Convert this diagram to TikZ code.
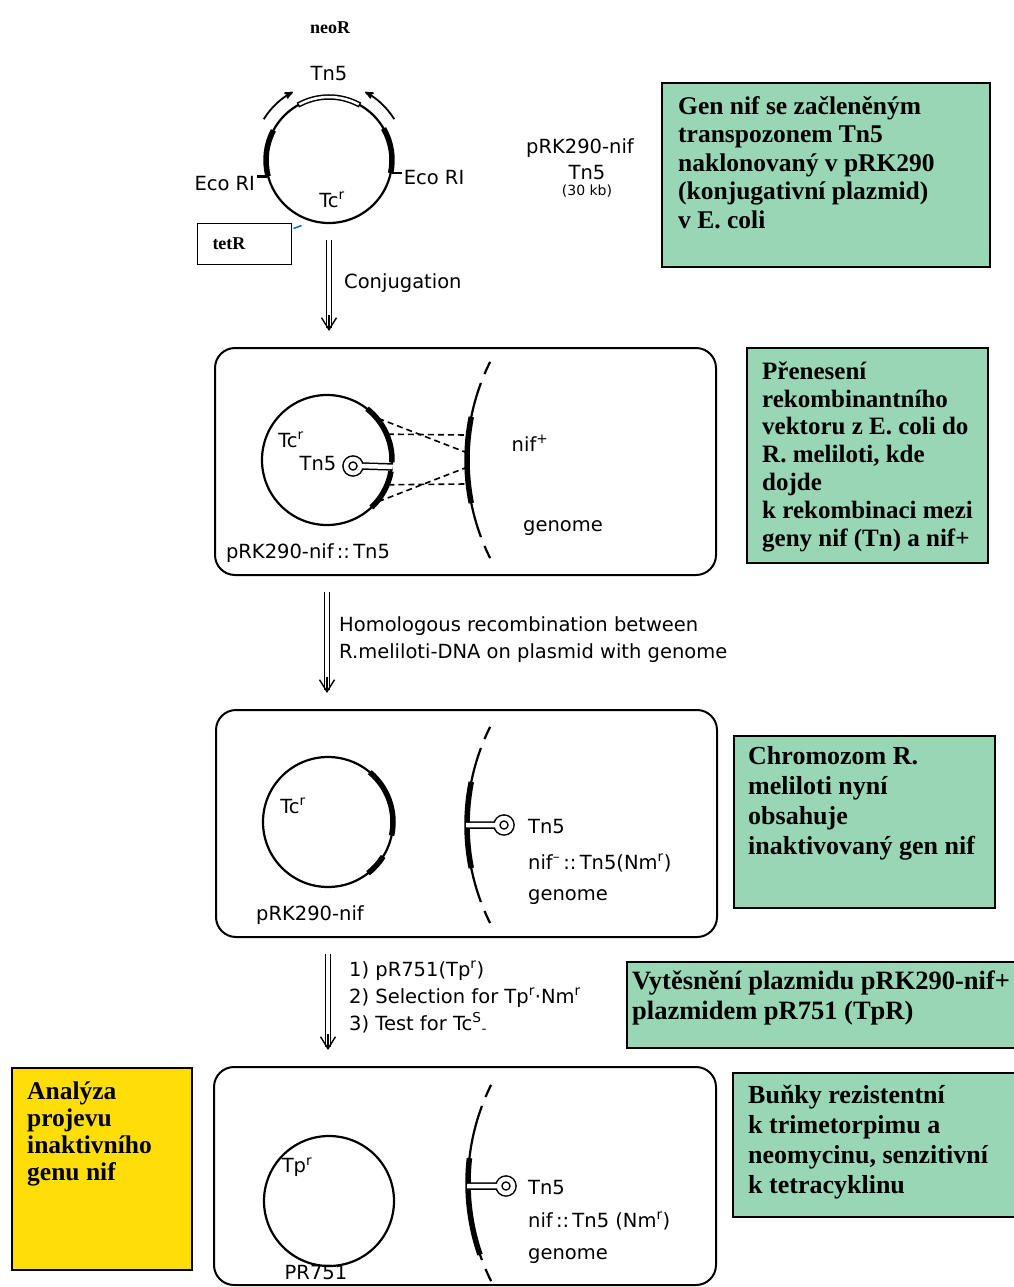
\documentclass[tikz,border=0pt]{standalone}
\usepackage{fontspec}
\newfontfamily\labfont{DejaVu Sans}
\newfontfamily\notefont{Liberation Serif}
\usepackage{tikz}
\usetikzlibrary{arrows}
\usetikzlibrary{arrows.meta}
\usetikzlibrary{positioning}
\definecolor{notegreen}{RGB}{152,214,182}
\definecolor{noteyellow}{RGB}{255,222,8}

\begin{document}
\begin{tikzpicture}[x=1pt,y=-1pt,>=stealth',
  plain/.style={line width=2.2pt},
  gene/.style={line width=5.5pt},
  ring/.style={circle,draw,line width=2.2pt,minimum size=#1,inner sep=0pt},
  panel/.style={draw,line width=2pt,rounded corners=20pt,minimum width=501pt,minimum height=#1},
  lab/.style={font=\labfont\fontsize{19.5}{24}\selectfont,inner sep=1pt},
  dbl/.style={double,double distance=3.5pt,line width=1.2pt,shorten <=16pt,shorten >=19pt},
  vtip/.style={line width=1.4pt,-{Straight Barb[length=12pt,width=15pt]}},
  hom/.style={dashed,dash pattern=on 6pt off 4pt,line width=1.6pt},
  keyhole/.style={double,double distance=4.5pt,line width=1.5pt},
  notebox/.style={draw,line width=1.4pt,fill=notegreen,inner sep=0pt},
  note/.style={font=\notefont\bfseries\fontsize{25}{28.5}\selectfont,align=left,anchor=base west,inner sep=0pt}]

  \useasboundingbox (0,0) rectangle (1014,1287);
  \fill[white] (0,0) rectangle (1014,1287);

  % vector in E. coli
  \node[ring=126pt] (c0) at (329,160) {};
  \draw[gene] (c0.center) ++(-152:63) arc (-152:-195:63);
  \draw[gene] (c0.center) ++(12:63) arc (12:-30:63);
  \draw[line width=1.5pt,double=white,double distance=2.5pt,line cap=rect] (c0.center) ++(-63:63) arc (-63:-117:63);
  \draw[->,line width=1.8pt] (c0.center) ++(-148:77) arc (-148:-118:77);
  \draw[->,line width=1.8pt] (c0.center) ++(-32:77) arc (-32:-62:77);

  \node[font=\notefont\bfseries\fontsize{18}{21}\selectfont] (neo) at (330,28) {neoR};
  \node[lab] (tn0) [above=14pt of c0] {Tn5};
  \node[lab] (tc0) at (332,200) {Tc\textsuperscript{r}};
  \draw[plain] (c0.195) -- ++(-10,0) node[lab,left,yshift=-7pt] (e1) {Eco RI};
  \draw[plain] (c0.-12) -- ++(10,0) node[lab,right,yshift=-4pt] (e2) {Eco RI};

  \node[draw,line width=1pt,minimum height=41pt,text width=63pt,inner xsep=15.5pt,
    font=\notefont\bfseries\fontsize{18}{21}\selectfont] (tr) at (244,243.5) {tetR};
  \draw[blue!60!cyan,line width=1.5pt] ([shift={(2,6)}]tr.north east) -- ++(8,-3);

  \node[lab] (pk) at (580,148) {pRK290-nif};
  \node[lab] (pkt) [below=5pt of pk,xshift=7pt] {Tn5};
  \node[lab,font=\labfont\fontsize{14}{16}\selectfont] (pkk) [below=3pt of pkt] {(30 kb)};

  \node[lab,anchor=west] (cj) at (343,283) {Conjugation};

  % plasmid meets the genome
  \node[panel=227pt] (p1) at (465.5,461.5) {};
  \node[ring=130pt] (c1) at (327,460) {};
  \draw[gene] (c1.center) ++(-52:65) arc (-52:2:65);
  \draw[gene] (c1.center) ++(10:65) arc (10:47:65);
  \coordinate (g1) at (687,460);
  \draw[plain] (g1) ++(-153.5:220) arc (-153.5:-157:220);
  \draw[plain] (g1) ++(-159.5:220) arc (-159.5:-200.5:220);
  \draw[plain] (g1) ++(-203:220) arc (-203:-206.5:220);
  \draw[gene] (g1) ++(-168.7:220) arc (-168.7:-191.3:220);

  \coordinate (h1) at (465,452);
  \coordinate (h2) at (465,435);
  \coordinate (h3) at (465,484);
  \coordinate (h4) at (465,468);
  \draw[hom] (c1.39) -- (h1);
  \draw[hom] (c1.23) -- (h2);
  \draw[hom] (c1.-22) -- (h3);
  \draw[hom] (c1.-39) -- (h4);

  \coordinate (k1) at (353,466);
  \draw[keyhole] (k1) circle (7) ([xshift=7pt]k1) -- (c1.-6);

  \node[lab] (tc1) at (291,440) {Tc\textsuperscript{r}};
  \node[lab] (tn1) at (318,464) {Tn5};
  \node[lab] (nf1) at (530,443) {nif\textsuperscript{+}};
  \node[lab] (gn1) at (563,528) {genome};
  \node[lab] (pn1) at (308,553) {pRK290-nif\,::\,Tn5};

  \node[lab,anchor=west,align=left,font=\labfont\fontsize{19.5}{27}\selectfont] (hr) at (338,640)
    {Homologous recombination between\\R.meliloti-DNA on plasmid with genome};

  % Tn5 in the genome
  \node[panel=227pt] (p2) at (466.5,823.5) {};
  \node[ring=130pt] (c2) at (328,822) {};
  \draw[gene] (c2.center) ++(-50:65) arc (-50:12:65);
  \draw[gene] (c2.center) ++(32:65) arc (32:52:65);
  \coordinate (g2) at (687,825);
  \draw[plain] (g2) ++(-153.5:220) arc (-153.5:-157:220);
  \draw[plain] (g2) ++(-159.5:220) arc (-159.5:-200.5:220);
  \draw[plain] (g2) ++(-203:220) arc (-203:-206.5:220);
  \draw[gene] (g2) ++(-168.7:220) arc (-168.7:-191.3:220);
  \coordinate (k2) at (504,825);
  \coordinate (s2) at (466,825);
  \draw[keyhole] (k2) circle (7) ([xshift=-7pt]k2) -- (s2);

  \node[lab] (tc2) at (293,806) {Tc\textsuperscript{r}};
  \node[lab] (pn2) at (310,915) {pRK290-nif};
  \node[lab,anchor=west] (tn2) at (527,827) {Tn5};
  \node[lab,anchor=west] (nm2) at (527,863) {nif\textsuperscript{–}\,::\,Tn5(Nm\textsuperscript{r})};
  \node[lab,anchor=west] (gn2) at (527,897) {genome};

  \node[lab,anchor=west,align=left,font=\labfont\fontsize{19.5}{27}\selectfont] (sel) at (348,997)
    {1) pR751(Tp\textsuperscript{r})\\2) Selection for Tp\textsuperscript{r}·Nm\textsuperscript{r}\\3) Test for Tc\textsuperscript{S}\textsubscript{-}};

  % pR751 replaces the vector
  \node[panel=218pt,minimum width=502pt] (p3) at (465,1176) {};
  \node[ring=130pt] (c3) at (329,1201) {};
  \coordinate (g3) at (688,1183);
  \draw[plain] (g3) ++(-153.5:220) arc (-153.5:-157:220);
  \draw[plain] (g3) ++(-159.5:220) arc (-159.5:-200.5:220);
  \draw[plain] (g3) ++(-203:220) arc (-203:-206.5:220);
  \draw[gene] (g3) ++(-173.5:220) arc (-173.5:-199:220);
  \coordinate (k3) at (506,1186);
  \coordinate (s3) at (467,1186);
  \draw[keyhole] (k3) circle (7) ([xshift=-7pt]k3) -- (s3);

  \node[lab] (tp3) at (297,1167) {Tp\textsuperscript{r}};
  \node[lab] (pn3) at (316,1273) {PR751};
  \node[lab,anchor=west] (tn3) at (527,1188) {Tn5};
  \node[lab,anchor=west] (nm3) at (527,1221) {nif\,::\,Tn5 (Nm\textsuperscript{r})};
  \node[lab,anchor=west] (gn3) at (527,1256) {genome};

  % steps between the panels
  \coordinate (a1) at (c0 |- p1.north);
  \coordinate (a2) at (c1 |- p2.north);
  \coordinate (a3) at (c2 |- p3.north);
  \draw[dbl] (c0.south) -- (a1);
  \draw[vtip] ([yshift=32pt]a1) -- ([yshift=16pt]a1);
  \draw[dbl] (c1 |- p1.south) -- (a2);
  \draw[vtip] ([yshift=32pt]a2) -- ([yshift=16pt]a2);
  \draw[dbl] (c2 |- p2.south) -- (a3);
  \draw[vtip] ([yshift=32pt]a3) -- ([yshift=16pt]a3);

  % notes (base = last line)
  \node[notebox,minimum width=328pt,minimum height=184pt] (n1) at (826,175) {};
  \node[note,font=\notefont\bfseries\fontsize{25.5}{28.5}\selectfont] (t1) at (678,228) {Gen nif se začleněným\\transpozonem Tn5\\naklonovaný v pRK290\\(konjugativní plazmid)\\v E. coli};
  \node[notebox,minimum width=241pt,minimum height=215pt] (n2) at (867.5,455.5) {};
  \node[note,font=\notefont\bfseries\fontsize{25}{27.8}\selectfont] (t2) at (762,546) {Přenesení\\rekombinantního\\vektoru z E. coli do\\R. meliloti, kde\\dojde\\k rekombinaci mezi\\geny nif (Tn) a nif+};
  \node[notebox,minimum width=261pt,minimum height=172pt] (n3) at (864.5,822) {};
  \node[note,font=\notefont\bfseries\fontsize{26}{30}\selectfont] (t3) at (748,854) {Chromozom R.\\meliloti nyní\\obsahuje\\inaktivovaný gen nif};
  \node[notebox,minimum width=403pt,minimum height=86pt] (n4) at (828.5,1005) {};
  \node[note,font=\notefont\bfseries\fontsize{26.5}{30}\selectfont] (t4) at (632,1019) {Vytěsnění plazmidu pRK290-nif+\\plazmidem pR751 (TpR)};
  \node[notebox,minimum width=297pt,minimum height=144pt] (n5) at (881.5,1145) {};
  \node[note,font=\notefont\bfseries\fontsize{26}{29.7}\selectfont] (t5) at (748,1193) {Buňky rezistentní\\k trimetorpimu a\\neomycinu, senzitivní\\k tetracyklinu};
  \node[notebox,fill=noteyellow,minimum width=180pt,minimum height=202pt] (n6) at (102,1169) {};
  \node[note,font=\notefont\bfseries\fontsize{25.5}{27}\selectfont] (t6) at (27,1180) {Analýza\\projevu\\inaktivního\\genu nif};

\end{tikzpicture}
\end{document}
